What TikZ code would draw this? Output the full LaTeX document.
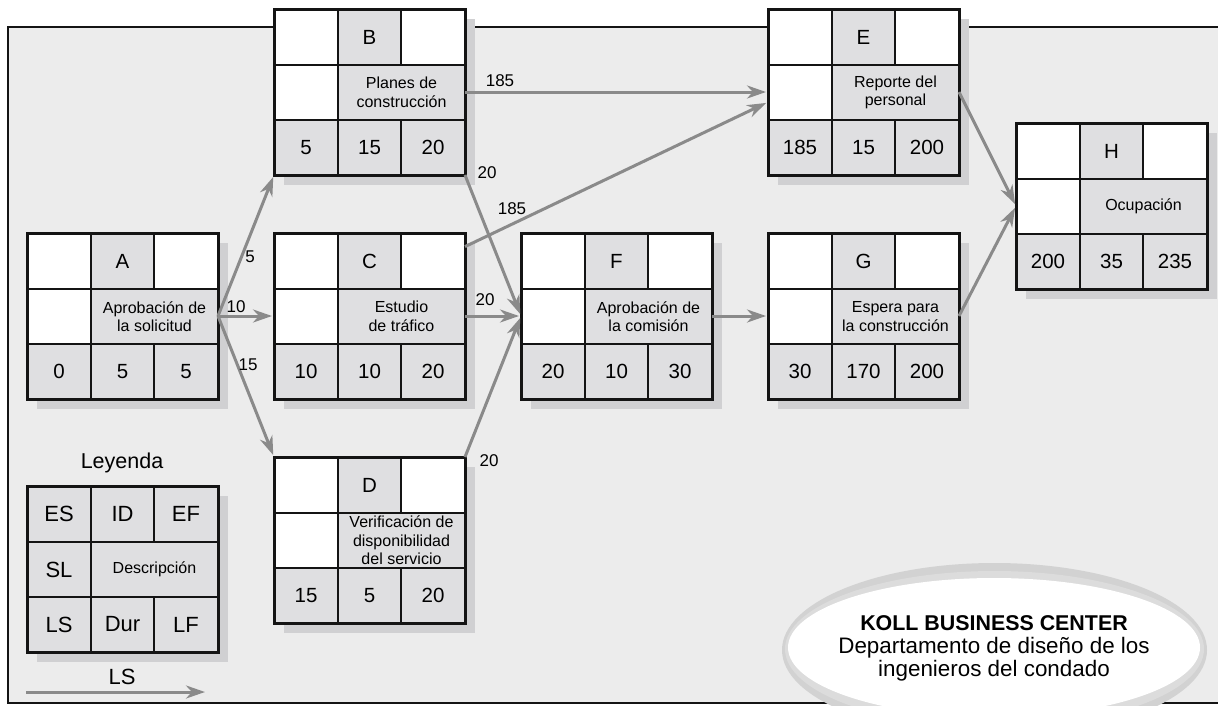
\documentclass[tikz,border=0pt]{standalone}
\usepackage{fontspec}
\setmainfont{Liberation Sans}
\usetikzlibrary{arrows.meta}
\definecolor{bggray}{HTML}{ECECEC}
\definecolor{cellgray}{HTML}{DFDFE1}
\definecolor{shadowgray}{HTML}{D0D0D2}
\definecolor{arrowgray}{HTML}{8A8A8A}
\definecolor{ink}{HTML}{141414}
\definecolor{rimdark}{HTML}{D2D2D2}
\definecolor{rimlight}{HTML}{DCDCDC}
\tikzset{
  boxframe/.style={draw=ink, line width=3pt, minimum width=191pt, minimum height=166pt, anchor=north west, inner sep=0pt, outer sep=0pt},
  gridline/.style={draw=ink, line width=1.2pt},
  bigtxt/.style={font=\fontsize{20.5}{24}\selectfont, text=black, inner sep=0pt},
  desctxt/.style={font=\fontsize{16}{18.5}\selectfont, text=black, align=center, inner sep=0pt},
  legtxt/.style={font=\fontsize{22}{26}\selectfont, text=black, inner sep=0pt},
  lbl/.style={font=\fontsize{17}{20}\selectfont, text=black, inner sep=0pt},
  flow/.style={draw=arrowgray, line width=3pt, -{Stealth[length=19pt,width=13pt,inset=6pt]}, shorten >=2pt},
}
\newcommand\pertbox[8]{%
  \begin{scope}[shift={(#2)}]
    \fill[shadowgray] (10,10) rectangle (201,176);
    \fill[cellgray] (0,0) rectangle (191,166);
    \fill[white] (0,0) rectangle (64,56) (127,0) rectangle (191,56) (0,56) rectangle (64,111);
    \draw[gridline] (0,56) -- (191,56) (0,111) -- (191,111) (64,0) -- (64,166)
      (127,0) -- (127,56) (127,111) -- (127,166);
    \node[boxframe] (#1) at (0,0) {};
    \node[bigtxt] (#1-id) at (95.5,28) {#3};
    \node[desctxt] (#1-desc) at (127.5,83.5) {#4};
    \node[bigtxt] (#1-es) at (32,138.5) {#5};
    \node[bigtxt] (#1-dur) at (95.5,138.5) {#6};
    \node[bigtxt] (#1-ef) at (159,138.5) {#7};
  \end{scope}}
\begin{document}
\begin{tikzpicture}[x=1pt, y=-1pt]
\useasboundingbox (0,0) rectangle (1218,705);
% frame
\fill[bggray] (8,27) rectangle (1230,703);
\draw[ink, line width=2pt] (1230,27) -- (8,27) -- (8,703) -- (1230,703);
% ellipse badge
\fill[rimdark] (994.5,650) ellipse [x radius=212.5pt, y radius=87pt];
\fill[rimlight] (994.5,649) ellipse [x radius=209.5pt, y radius=78pt];
\fill[white] (994,647.5) ellipse [x radius=206pt, y radius=69.5pt];
\node[align=center, text=black, inner sep=0pt, font=\fontsize{22.4}{23}\selectfont] (badge) at (994,648)
  {{\fontsize{21.4}{23}\selectfont\bfseries KOLL BUSINESS CENTER}\\Departamento de diseño de los\\ingenieros del condado};
% activity boxes
\pertbox{A}{27,233}{A}{Aprobación de\\la solicitud}{0}{5}{5}{}
\pertbox{B}{274,9}{B}{Planes de\\construcción}{5}{15}{20}{}
\pertbox{C}{274,233}{C}{Estudio\\de tráfico}{10}{10}{20}{}
\pertbox{D}{274,457}{D}{Verificación de\\disponibilidad\\del servicio}{15}{5}{20}{}
\pertbox{E}{768,9}{E}{Reporte del\\personal}{185}{15}{200}{}
\pertbox{F}{521,233}{F}{Aprobación de\\la comisión}{20}{10}{30}{}
\pertbox{G}{768,233}{G}{Espera para\\la construcción}{30}{170}{200}{}
\pertbox{H}{1016,123}{H}{Ocupación}{200}{35}{235}{}
% legend
\node[legtxt, font=\fontsize{21.5}{25}\selectfont] (legtitle) at (122,463) {Leyenda};
\begin{scope}[shift={(27,486)}]
  \fill[shadowgray] (10,10) rectangle (201,176);
  \fill[cellgray] (0,0) rectangle (191,166);
  \draw[gridline] (0,56) -- (191,56) (0,111) -- (191,111) (64,0) -- (64,166)
    (127,0) -- (127,56) (127,111) -- (127,166);
  \node[boxframe] (L) at (0,0) {};
  \node[legtxt] (L-es) at (32,28) {ES};
  \node[legtxt] (L-id) at (95.5,28) {ID};
  \node[legtxt] (L-ef) at (159,28) {EF};
  \node[legtxt] (L-sl) at (32,83.5) {SL};
  \node[desctxt] (L-desc) at (127.5,83.5) {Descripción};
  \node[legtxt] (L-ls) at (32,138.5) {LS};
  \node[legtxt] (L-dur) at (95.5,138.5) {Dur};
  \node[legtxt] (L-lf) at (159,138.5) {LF};
\end{scope}
\node[legtxt] (lslabel) at (122,677) {LS};
\coordinate (ls0) at (26,692);
\coordinate (ls1) at (207,692);
\draw[flow] (ls0) -- (ls1);
% connectors
\draw[flow] (A.east) -- (B.south west);
\draw[flow] (A.east) -- (C.west);
\draw[flow] (A.east) -- (D.north west);
\draw[flow] (B.east) -- (E.west);
\draw[flow] (B.south east) -- (F.west);
\draw[flow] (C.36) -- (E.186);
\draw[flow] (C.east) -- (F.west);
\draw[flow] (D.north east) -- (F.west);
\draw[flow] (F.east) -- (G.west);
\draw[flow] (E.east) -- (H.west);
\draw[flow] (G.east) -- (H.west);
% connector labels
\node[lbl] (l-ab) at (250,257) {5};
\node[lbl] (l-ac) at (236,307) {10};
\node[lbl] (l-ad) at (248,365) {15};
\node[lbl] (l-be) at (500,81) {185};
\node[lbl] (l-bf) at (487,173) {20};
\node[lbl] (l-ce) at (512,209) {185};
\node[lbl] (l-cf) at (485,300) {20};
\node[lbl] (l-df) at (489,461) {20};
\end{tikzpicture}
\end{document}
